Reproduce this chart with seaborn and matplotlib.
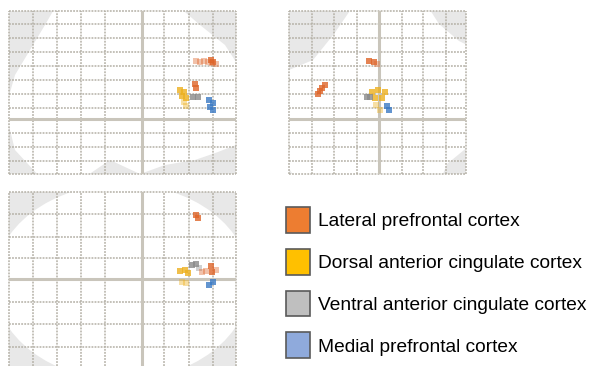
import pandas as pd
import seaborn as sns
import matplotlib.pyplot as plt
from matplotlib.patches import Ellipse, Polygon, Patch

# regions + colours
regions = ['Lateral prefrontal cortex', 'Dorsal anterior cingulate cortex',
           'Ventral anterior cingulate cortex', 'Medial prefrontal cortex']
legend_colors = ['#ED7D31', '#FFC000', '#BFBFBF', '#8FAADC']
blob_colors = ['#DE6428', '#EDB01E', '#8A8A8A', '#3B7AC4']

# sagittal view (offsets from the crosshair)
sag_x = [54, 58, 62, 66, 70, 74, 69, 71, 53, 54, 38, 42, 40, 44, 42, 44, 51, 56, 67, 71, 68, 71]
sag_y = [58, 57, 58, 57, 56, 55, 59, 57, 35, 31, 29, 27, 23, 21, 17, 13, 22, 22, 19, 16, 12, 9]
sag_r = [0, 0, 0, 0, 0, 0, 0, 0, 0, 0, 1, 1, 1, 1, 1, 1, 2, 2, 3, 3, 3, 3]
sag_w = [0, 0, 0, 0, 0, 0, 1, 1, 1, 1, 1, 1, 1, 1, 0, 0, 1, 1, 1, 1, 1, 1]

# coronal view
cor_x = [-10, -5, -2, -61, -57, -54, -59, -7, -1, 6, -4, 3, -3, 1, -12, -9, 8, 10]
cor_y = [58, 57, 55, 25, 31, 34, 28, 27, 29, 27, 21, 21, 14, 9, 22, 22, 13, 9]
cor_r = [0, 0, 0, 0, 0, 0, 0, 1, 1, 1, 1, 1, 1, 1, 2, 2, 3, 3]
cor_w = [1, 1, 0, 1, 1, 1, 1, 1, 1, 1, 1, 1, 0, 0, 1, 1, 1, 1]

# axial view
axi_x = [54, 56, 38, 43, 46, 40, 44, 50, 54, 57, 60, 64, 69, 70, 74, 67, 71]
axi_y = [64, 61, 8, 9, 6, -3, -4, 14, 15, 11, 7, 8, 13, 7, 9, -6, -3]
axi_r = [0, 0, 1, 1, 1, 1, 1, 2, 2, 2, 0, 0, 0, 0, 0, 3, 3]
axi_w = [1, 1, 1, 1, 1, 0, 0, 1, 1, 0, 0, 0, 1, 1, 0, 1, 1]

# grid positions
sag_vlines = [-133, -109, -85, -61, -37, 22, 47, 71, 94]
sag_hlines = [108, 95, 81, 67, 53, 39, 25, 11, -14, -28, -42, -55]
cor_vlines = [-90, -67, -45, -22, 23, 44, 67, 87]
axi_hlines = [87, 65, 42, 21, -23, -45, -68, -90]

sag_shape = [(-82, 120), (28, 120), (58, 94), (83, 74), (94, 57), (103, 19), (94, -26),
             (76, -33), (53, -41), (23, -46), (-2, -55), (-32, -41), (-57, -58),
             (-102, -58), (-127, -31), (-137, 9), (-127, 44), (-112, 69), (-97, 94)]
cor_shape = [(-21, 120), (44, 120), (60, 95), (80, 78), (96, 70), (100, 20), (96, -22),
             (68, -45), (60, -65), (-80, -65), (-96, -40), (-100, 40), (-90, 49),
             (-66, 59), (-45, 85)]

W, H = 590, 366
fig = plt.figure(figsize=(W / 100, H / 100), dpi=100)

grid_col = '#B4B0A6'
cross_col = '#C9C5BB'


def panel(px, xlim, ylim, vlines, hlines, shape, xs, ys, rs, ws):
    x0, y0, x1, y1 = px
    ax = fig.add_axes([x0 / W, 1 - y1 / H, (x1 - x0) / W, (y1 - y0) / H])
    ax.set_facecolor('#E8E8E8')
    ax.add_patch(shape)
    for v in vlines:
        ax.axvline(v, color=grid_col, lw=1.1, ls=(0, (1.2, 0.8)), zorder=2, clip_on=False)
    for h in hlines:
        ax.axhline(h, color=grid_col, lw=1.1, ls=(0, (1.2, 0.8)), zorder=2, clip_on=False)
    ax.axvline(0, color=cross_col, lw=2.2, zorder=2)
    ax.axhline(0, color=cross_col, lw=2.2, zorder=2)

    df = pd.DataFrame({'x': xs, 'y': ys,
                       'region': [regions[i] for i in rs], 'strong': ws})
    pal = dict(zip(regions, blob_colors))
    sns.scatterplot(data=df[df.strong == 0], x='x', y='y', hue='region', palette=pal,
                    marker='s', s=20, alpha=0.4, edgecolor='none', legend=False, ax=ax, zorder=3)
    sns.scatterplot(data=df[df.strong == 1], x='x', y='y', hue='region', palette=pal,
                    marker='s', s=20, alpha=0.8, edgecolor='none', legend=False, ax=ax, zorder=4)
    ax.set_xlim(*xlim)
    ax.set_ylim(*ylim)
    ax.set_xticks([])
    ax.set_yticks([])
    ax.set_xlabel('')
    ax.set_ylabel('')
    for s in ax.spines.values():
        s.set_visible(False)
    return ax


panel((9, 11, 236, 174), (-133, 94), (-55, 108), sag_vlines, sag_hlines,
      Polygon(sag_shape, closed=True, fc='white', ec='none', zorder=1),
      sag_x, sag_y, sag_r, sag_w)
panel((289, 11, 466, 174), (-90, 87), (-55, 108), cor_vlines, sag_hlines,
      Polygon(cor_shape, closed=True, fc='white', ec='none', zorder=1),
      cor_x, cor_y, cor_r, cor_w)
panel((9, 192, 236, 366), (-133, 94), (-87, 87), sag_vlines, axi_hlines,
      Ellipse((-20, -3), 256, 196, fc='white', ec='none', zorder=1),
      axi_x, axi_y, axi_r, axi_w)

handles = [Patch(facecolor=c, edgecolor='#5A5A5A', lw=1.2) for c in legend_colors]
fig.legend(handles, regions, loc='upper left', bbox_to_anchor=(286 / W, 1 - 207 / H),
           frameon=False, handlelength=1.25, handleheight=1.7,
           handletextpad=0.42, labelspacing=0.83, borderpad=0, borderaxespad=0,
           prop={'family': 'Liberation Sans', 'size': 13.8})

plt.savefig('out.png', dpi=100)
